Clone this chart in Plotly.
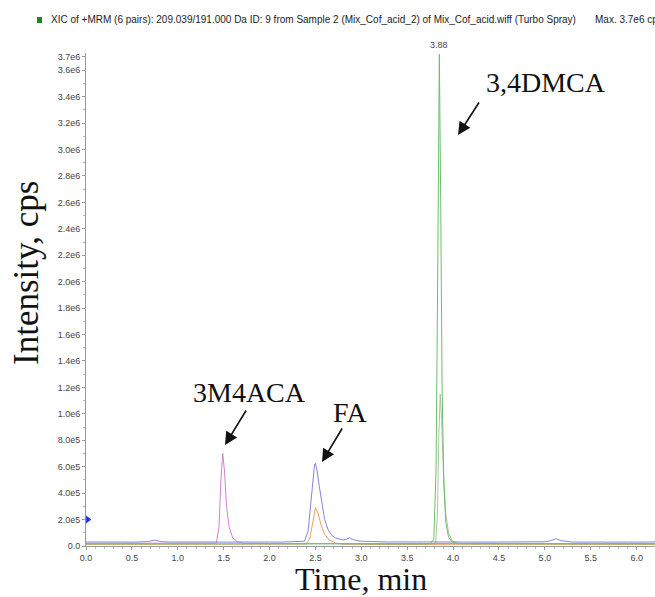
import plotly.graph_objects as go

# ---- data ----
blue_t = [0.0, 0.1, 0.2, 0.3, 0.4, 0.5, 0.6, 0.68, 0.75, 0.82, 0.9, 1.0, 1.1, 1.2, 1.3, 1.4, 1.5, 1.6, 1.7, 1.8,
          1.9, 2.0, 2.1, 2.2, 2.3, 2.38, 2.42, 2.45, 2.47, 2.49, 2.50, 2.52, 2.54, 2.57, 2.60, 2.64, 2.68, 2.72,
          2.76, 2.80, 2.84, 2.87, 2.90, 2.94, 3.0, 3.1, 3.2, 3.3, 3.4, 3.5, 3.6, 3.7, 3.8, 3.9, 4.0, 4.1, 4.2,
          4.3, 4.4, 4.5, 4.6, 4.7, 4.8, 4.9, 5.0, 5.06, 5.12, 5.18, 5.25, 5.3, 5.4, 5.5, 5.6, 5.7, 5.8, 5.9,
          6.0, 6.1, 6.2]
blue_v = [30000, 31000, 29000, 32000, 30000, 29000, 31000, 33000, 45000, 33000, 30000, 31000, 29000, 30000,
          31000, 30000, 29000, 31000, 30000, 29000, 31000, 30000, 29000, 31000, 30000, 36000, 110000, 330000,
          520000, 615000, 625000, 560000, 460000, 320000, 200000, 120000, 80000, 60000, 50000, 45000, 52000,
          62000, 52000, 42000, 36000, 33000, 31000, 30000, 31000, 29000, 30000, 31000, 30000, 32000, 30000,
          29000, 31000, 30000, 29000, 30000, 31000, 29000, 30000, 31000, 32000, 40000, 55000, 40000, 31000,
          30000, 29000, 31000, 30000, 29000, 31000, 30000, 29000, 30000, 31000]

orange_t = [0.0, 0.5, 1.0, 1.5, 2.0, 2.3, 2.40, 2.44, 2.47, 2.50, 2.53, 2.56, 2.60, 2.65, 2.72, 2.80,
            2.9, 3.0, 3.5, 4.0, 4.5, 5.0, 5.5, 6.0, 6.2]
orange_v = [12000, 13000, 12000, 12000, 13000, 12000, 15000, 60000, 170000, 290000, 245000, 160000, 90000,
            45000, 22000, 14000, 13000, 12000, 12000, 13000, 12000, 12000, 13000, 12000, 12000]

pink_t = [0.0, 0.5, 1.0, 1.3, 1.42, 1.45, 1.47, 1.49, 1.51, 1.53, 1.56, 1.60, 1.65, 1.72, 1.8, 2.0, 2.5,
          3.0, 3.5, 4.0, 4.5, 5.0, 5.5, 6.0, 6.2]
pink_v = [20000, 21000, 20000, 20000, 22000, 150000, 500000, 700000, 560000, 310000, 140000, 60000, 32000,
          20000, 18000, 18000, 18000, 19000, 18000, 19000, 18000, 19000, 18000, 19000, 18000]

green_t = [0.0, 1.0, 2.0, 3.0, 3.75, 3.79, 3.815, 3.835, 3.85, 3.865, 3.88, 3.90, 3.92, 3.95, 3.99, 4.05,
           4.5, 5.0, 5.5, 6.0, 6.2]
green_v = [16000, 16000, 16000, 16000, 16000, 50000, 600000, 2300000, 3720000, 2600000, 1200000, 450000,
           180000, 70000, 30000, 17000, 16000, 16000, 16000, 16000, 16000]

green2_t = [3.0, 3.77, 3.81, 3.83, 3.845, 3.86, 3.875, 3.895, 3.92, 3.95, 3.99, 4.05, 4.3]
green2_v = [15000, 15000, 22000, 250000, 850000, 1150000, 950000, 550000, 250000, 100000, 40000, 20000, 15000]

y_tick_vals = [0, 2e5, 4e5, 6e5, 8e5, 1.0e6, 1.2e6, 1.4e6, 1.6e6, 1.8e6, 2.0e6, 2.2e6, 2.4e6, 2.6e6,
               2.8e6, 3.0e6, 3.2e6, 3.4e6, 3.6e6, 3.7e6]
y_tick_labels = ["0.0", "2.0e5", "4.0e5", "6.0e5", "8.0e5", "1.0e6", "1.2e6", "1.4e6", "1.6e6", "1.8e6",
                 "2.0e6", "2.2e6", "2.4e6", "2.6e6", "2.8e6", "3.0e6", "3.2e6", "3.4e6", "3.6e6", "3.7e6"]
x_tick_vals = [0.0, 0.5, 1.0, 1.5, 2.0, 2.5, 3.0, 3.5, 4.0, 4.5, 5.0, 5.5, 6.0]
x_tick_labels = ["0.0", "0.5", "1.0", "1.5", "2.0", "2.5", "3.0", "3.5", "4.0", "4.5", "5.0", "5.5", "6.0"]

marker_level = 2.0e5
apex_time = 3.85
apex_value = 3.72e6
apex_label = "3.88"

W, H = 655, 597
ML, MR, MT, MB = 86, 0, 53, 51
PW, PH = W - ML - MR, H - MT - MB


def px(x):
    return (x - ML) / PW


def py(y):
    return (H - MB - y) / PH


fig = go.Figure()
fig.add_trace(go.Scatter(x=green2_t, y=green2_v, mode="lines", line=dict(color="#aac6a6", width=1)))
fig.add_trace(go.Scatter(x=orange_t, y=orange_v, mode="lines", line=dict(color="#f0a060", width=1)))
fig.add_trace(go.Scatter(x=pink_t, y=pink_v, mode="lines", line=dict(color="#d77fd8", width=1)))
fig.add_trace(go.Scatter(x=blue_t, y=blue_v, mode="lines", line=dict(color="#8585dd", width=1)))
fig.add_trace(go.Scatter(x=green_t, y=green_v, mode="lines", line=dict(color="#6cbf6c", width=1)))
fig.add_trace(go.Scatter(x=[0.02], y=[marker_level], mode="markers", cliponaxis=False,
                         marker=dict(symbol="triangle-right", color="#1a3cd0", size=7)))

serif = "Liberation Serif, Times New Roman, serif"
sans = "Liberation Sans, Arial, sans-serif"


def text_at(x, y, text, size, family, color="#111", angle=0, xanchor="center"):
    fig.add_annotation(xref="paper", yref="paper", x=px(x), y=py(y), xanchor=xanchor, yanchor="middle",
                       text=text, showarrow=False, textangle=angle,
                       font=dict(family=family, size=size, color=color))


anns = [
    dict(text="3,4DMCA", x=546, y=83, arrow=(480, 101, 458, 135)),
    dict(text="3M4ACA", x=249, y=392, arrow=(247, 409, 225, 445)),
    dict(text="FA", x=350, y=412, arrow=(343, 427, 322, 462)),
]
for a in anns:
    text_at(a["x"], a["y"], a["text"], 28, serif)
    x0, y0, x1, y1 = a["arrow"]
    fig.add_annotation(xref="paper", yref="paper", x=px(x1), y=py(y1),
                       ax=x0 - x1, ay=y0 - y1,
                       text="", showarrow=True, arrowhead=2, arrowsize=1.6, arrowwidth=1.6,
                       arrowcolor="#111")

fig.add_annotation(x=apex_time, y=apex_value, text=apex_label, showarrow=False, yshift=9,
                   font=dict(family=sans, size=9, color="#444"))

text_at(49, 20, "XIC of +MRM (6 pairs): 209.039/191.000 Da ID: 9 from Sample 2 (Mix_Cof_acid_2) of Mix_Cof_acid.wiff (Turbo Spray)",
        10, sans, color="#222", xanchor="left")
text_at(593, 20, "Max. 3.7e6 cps", 10, sans, color="#222", xanchor="left")
fig.add_shape(type="rect", xref="paper", yref="paper", x0=px(37), x1=px(42),
              y0=py(23), y1=py(17), fillcolor="#1a8a1a", line=dict(width=0))

text_at(26, 273, "Intensity, cps", 35, serif, angle=-90)
text_at(361, 579, "Time, min", 32, serif)

fig.update_layout(
    width=W, height=H, margin=dict(l=ML, r=MR, t=MT, b=MB),
    paper_bgcolor="white", plot_bgcolor="white", showlegend=False,
    xaxis=dict(range=[0, 6.2], tickvals=x_tick_vals, ticktext=x_tick_labels, showgrid=False,
               zeroline=False, showline=True, linecolor="#999", linewidth=1, ticks="outside",
               ticklen=3, tickcolor="#999", tickfont=dict(family=sans, size=9, color="#444"),
               minor=dict(dtick=0.1, tick0=0, ticks="outside", ticklen=2, tickcolor="#bbb")),
    yaxis=dict(range=[0, 3.73e6], tickvals=y_tick_vals, ticktext=y_tick_labels, showgrid=False,
               zeroline=False, showline=True, linecolor="#999", linewidth=1, ticks="outside",
               ticklen=3, tickcolor="#999", tickfont=dict(family=sans, size=9, color="#444"),
               minor=dict(dtick=1e5, tick0=0, ticks="outside", ticklen=2, tickcolor="#bbb")),
)

fig.write_html("out.html")
